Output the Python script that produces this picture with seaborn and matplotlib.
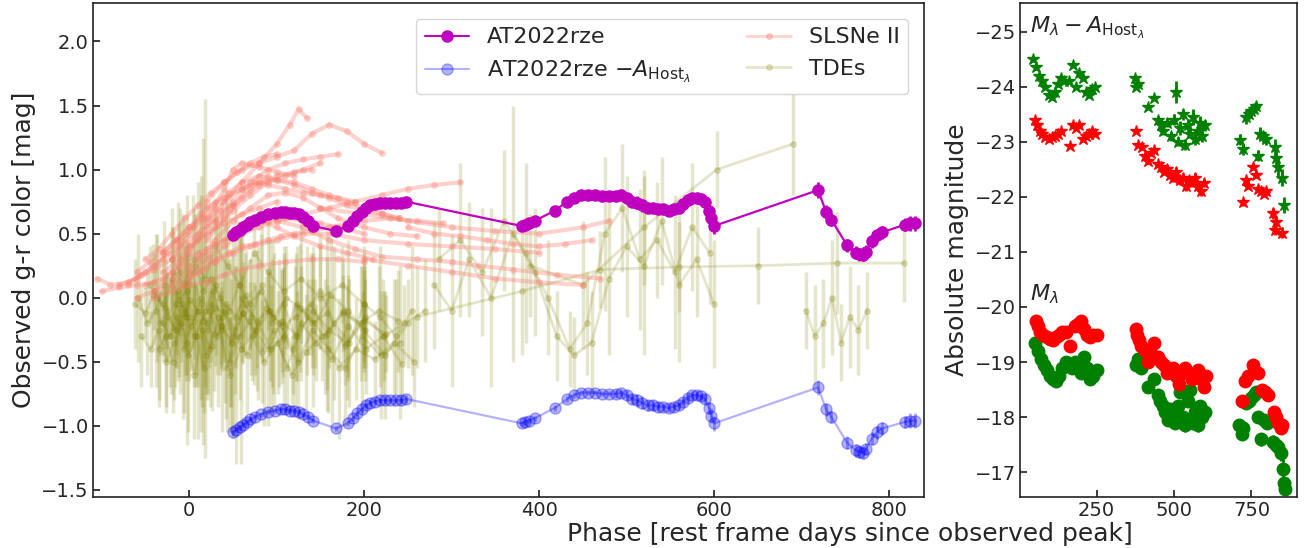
import numpy as np
import pandas as pd
import matplotlib
matplotlib.use("Agg")
import matplotlib.pyplot as plt
from matplotlib.lines import Line2D
import seaborn as sns

# ---------------- AT2022rze observed g-r colour ----------------
at_phase = [50, 54, 58, 62, 66, 70, 75, 82, 90, 98, 105, 110, 115, 120, 125, 130, 136, 142,
            168, 181, 187, 192, 197, 202, 207, 212, 218, 224, 230, 236, 242, 248,
            380, 384, 388, 395, 418, 432, 440, 448, 456, 464, 472, 480, 488, 494, 500, 506, 512, 518,
            524, 530, 536, 542, 548, 554, 560, 565, 570, 575, 580, 585, 590, 594, 597, 600,
            719, 728, 734, 752, 762, 766, 770, 774, 780, 786, 792, 818, 824, 830]
at_color = [0.49, 0.51, 0.53, 0.55, 0.57, 0.59, 0.61, 0.63, 0.65, 0.66, 0.67, 0.67, 0.66, 0.66, 0.65, 0.63, 0.60, 0.56,
            0.52, 0.56, 0.60, 0.64, 0.67, 0.70, 0.72, 0.73, 0.74, 0.74, 0.74, 0.74, 0.74, 0.75,
            0.56, 0.57, 0.58, 0.60, 0.68, 0.75, 0.78, 0.80, 0.80, 0.80, 0.79, 0.79, 0.79, 0.80, 0.78, 0.75, 0.74, 0.72,
            0.70, 0.70, 0.69, 0.69, 0.68, 0.69, 0.70, 0.73, 0.76, 0.78, 0.78, 0.77, 0.75, 0.68, 0.62, 0.56,
            0.84, 0.67, 0.61, 0.41, 0.35, 0.34, 0.335, 0.36, 0.44, 0.49, 0.51, 0.57, 0.58, 0.58]
at_err = [0.02, 0.02, 0.02, 0.02, 0.02, 0.02, 0.02, 0.02, 0.02, 0.02, 0.02, 0.02, 0.02, 0.02, 0.02, 0.02, 0.02, 0.02,
          0.02, 0.02, 0.02, 0.02, 0.02, 0.02, 0.02, 0.02, 0.02, 0.02, 0.02, 0.02, 0.02, 0.03,
          0.02, 0.02, 0.02, 0.02, 0.02, 0.02, 0.02, 0.02, 0.02, 0.02, 0.02, 0.02, 0.03, 0.03, 0.04, 0.04, 0.05, 0.05,
          0.04, 0.04, 0.04, 0.03, 0.03, 0.03, 0.03, 0.03, 0.03, 0.03, 0.03, 0.03, 0.04, 0.05, 0.06, 0.06,
          0.06, 0.05, 0.05, 0.05, 0.05, 0.05, 0.05, 0.05, 0.05, 0.05, 0.05, 0.05, 0.06, 0.06]

# colour corrected for host extinction
host_color = [-1.05, -1.03, -1.01, -0.99, -0.97, -0.95, -0.93, -0.91, -0.89, -0.88, -0.87, -0.87, -0.88, -0.88, -0.89, -0.91, -0.93, -0.96,
              -1.02, -0.98, -0.94, -0.90, -0.87, -0.84, -0.82, -0.81, -0.80, -0.80, -0.80, -0.80, -0.80, -0.79,
              -0.98, -0.97, -0.96, -0.94, -0.86, -0.79, -0.76, -0.74, -0.74, -0.74, -0.75, -0.75, -0.75, -0.74, -0.76, -0.79, -0.80, -0.82,
              -0.84, -0.84, -0.85, -0.85, -0.86, -0.85, -0.84, -0.81, -0.78, -0.76, -0.76, -0.77, -0.79, -0.86, -0.92, -0.98,
              -0.70, -0.87, -0.93, -1.13, -1.19, -1.20, -1.21, -1.18, -1.10, -1.05, -1.02, -0.97, -0.96, -0.96]

# ---------------- SLSNe II comparison colour curves ----------------
slsn1_phase = [-105, -90, -70, -50, -30, -10, 10, 30, 50, 70, 90]
slsn1_color = [0.15, 0.10, 0.12, 0.20, 0.30, 0.40, 0.50, 0.60, 0.72, 0.85, 0.95]
slsn2_phase = [-40, -20, 0, 20, 40, 60, 80, 100, 115, 125, 135]
slsn2_color = [0.05, 0.20, 0.35, 0.55, 0.75, 0.90, 1.05, 1.20, 1.35, 1.47, 1.40]
slsn3_phase = [-20, 0, 20, 40, 60, 80, 100, 120, 140, 160, 180, 200, 220]
slsn3_color = [0.30, 0.50, 0.75, 0.90, 1.00, 1.05, 1.10, 1.15, 1.28, 1.35, 1.30, 1.20, 1.13]
slsn4_phase = [-30, -10, 10, 30, 50, 70, 90, 110, 130, 150]
slsn4_color = [0.20, 0.30, 0.45, 0.55, 0.68, 0.80, 0.90, 0.95, 1.00, 1.05]
slsn5_phase = [0, 20, 40, 50, 60, 80, 100, 120]
slsn5_color = [0.40, 0.60, 0.85, 1.00, 1.05, 1.02, 0.98, 0.95]
slsn6_phase = [-50, -30, -10, 10, 30, 50, 70, 90, 110, 130, 150, 170, 200]
slsn6_color = [0.10, 0.15, 0.25, 0.35, 0.42, 0.48, 0.55, 0.60, 0.62, 0.60, 0.58, 0.55, 0.50]
slsn7_phase = [-60, -40, -20, 0, 20, 40, 60, 80, 100, 130, 160, 190, 220, 250, 280, 310]
slsn7_color = [0.00, 0.05, 0.10, 0.20, 0.30, 0.40, 0.50, 0.55, 0.60, 0.65, 0.70, 0.75, 0.80, 0.85, 0.88, 0.90]
slsn8_phase = [-20, 0, 20, 40, 60, 80, 100, 120, 150, 180, 210]
slsn8_color = [0.15, 0.25, 0.35, 0.45, 0.55, 0.60, 0.55, 0.48, 0.40, 0.35, 0.30]
slsn9_phase = [10, 30, 50, 70, 90, 110, 130, 150, 170, 200, 230, 260]
slsn9_color = [0.30, 0.45, 0.60, 0.70, 0.80, 0.82, 0.78, 0.70, 0.62, 0.55, 0.50, 0.48]
slsn10_phase = [-10, 10, 30, 50, 70, 100, 130, 160, 200, 250, 300, 350, 400]
slsn10_color = [0.10, 0.20, 0.28, 0.35, 0.40, 0.45, 0.50, 0.50, 0.45, 0.42, 0.40, 0.38, 0.35]
slsn11_phase = [20, 40, 60, 80, 100, 120, 140]
slsn11_color = [0.45, 0.62, 0.78, 0.88, 0.95, 0.98, 1.00]
slsn12_phase = [150, 200, 250, 300, 350, 400, 450, 480]
slsn12_color = [0.70, 0.65, 0.60, 0.55, 0.52, 0.50, 0.55, 0.60]
slsn13_phase = [-40, -20, 0, 20, 40, 60, 80, 110, 140, 170, 200]
slsn13_color = [0.00, 0.05, 0.10, 0.12, 0.18, 0.22, 0.25, 0.28, 0.30, 0.30, 0.28]
slsn14_phase = [100, 130, 160, 190, 220, 260, 300, 330, 370, 420, 470]
slsn14_color = [0.60, 0.55, 0.45, 0.38, 0.32, 0.30, 0.28, 0.25, 0.22, 0.18, 0.15]
slsn15_phase = [200, 250, 300, 350, 400, 450]
slsn15_color = [0.30, 0.25, 0.20, 0.15, 0.12, 0.10]
slsn16_phase = [-100, -80, -60, -40]
slsn16_color = [0.05, 0.08, 0.10, 0.12]
slsn17_phase = [30, 50, 70, 90, 110, 130, 150, 170]
slsn17_color = [0.60, 0.75, 0.90, 1.00, 1.05, 1.08, 1.10, 1.12]
slsn18_phase = [-80, -60, -40, -20, 0, 20, 40, 60, 80, 100]
slsn18_color = [0.10, 0.15, 0.22, 0.30, 0.40, 0.50, 0.58, 0.65, 0.70, 0.75]
slsn19_phase = [-60, -45, -30, -15, 0, 15, 30, 45, 60, 75, 90, 110, 130, 150, 170, 190]
slsn19_color = [0.20, 0.28, 0.36, 0.45, 0.55, 0.62, 0.70, 0.78, 0.85, 0.90, 0.88, 0.85, 0.82, 0.80, 0.78, 0.75]
slsn20_phase = [-30, -15, 0, 15, 30, 45, 60, 80, 100, 120, 140, 160, 180, 200, 220, 240]
slsn20_color = [0.35, 0.45, 0.55, 0.65, 0.75, 0.82, 0.90, 0.95, 0.92, 0.88, 0.82, 0.78, 0.72, 0.68, 0.65, 0.62]
slsn21_phase = [0, 15, 30, 45, 60, 75, 90, 105, 120, 140, 160, 180, 200, 230, 260, 290]
slsn21_color = [0.15, 0.22, 0.30, 0.35, 0.40, 0.42, 0.45, 0.48, 0.50, 0.52, 0.55, 0.58, 0.60, 0.62, 0.60, 0.58]
slsn22_phase = [-50, -35, -20, -5, 10, 25, 40, 55, 70, 85, 100]
slsn22_color = [0.30, 0.38, 0.50, 0.62, 0.72, 0.82, 0.90, 0.98, 1.05, 1.10, 1.12]
slsn23_phase = [20, 40, 60, 80, 100, 120, 140, 160, 180, 200, 220, 240]
slsn23_color = [0.70, 0.78, 0.85, 0.90, 0.92, 0.90, 0.85, 0.80, 0.75, 0.70, 0.66, 0.62]
slsn24_phase = [250, 280, 310, 340, 370, 400, 430, 460]
slsn24_color = [0.55, 0.50, 0.48, 0.45, 0.42, 0.40, 0.42, 0.45]
slsn25_phase = [-70, -55, -40, -25, -10, 5, 20, 35, 50]
slsn25_color = [0.10, 0.18, 0.25, 0.35, 0.45, 0.55, 0.62, 0.68, 0.72]

# ---------------- TDE comparison colour curves ----------------
tde1_phase = [-62, -50, -41, -33, -25, -16, -8, 0, 9, 18, 27, 38, 49, 61, 74, 88, 103, 119, 136, 155, 176, 199, 224, 250]
tde1_color = [-0.05, -0.12, 0.02, -0.2, -0.1, -0.25, -0.05, -0.15, -0.3, -0.1, 0.05, -0.22, -0.35, -0.12, -0.28, -0.08, -0.2, -0.4, -0.15, -0.3, -0.1, -0.25, -0.45, -0.2]
tde1_err = [0.35, 0.2, 0.4, 0.25, 0.3, 0.45, 0.2, 0.5, 0.3, 0.6, 0.25, 0.35, 0.7, 0.3, 0.4, 0.25, 0.5, 0.35, 0.3, 0.45, 0.4, 0.3, 0.5, 0.35]
tde2_phase = [-45, -37, -28, -20, -12, -3, 5, 14, 23, 32, 42, 53, 65, 78, 92, 107, 123, 140, 158, 178, 200, 225]
tde2_color = [0.1, 0.0, -0.08, 0.15, -0.02, 0.05, -0.18, 0.0, -0.1, -0.3, -0.05, -0.15, 0.02, -0.25, -0.1, -0.32, -0.05, -0.2, -0.12, -0.38, -0.18, -0.28]
tde2_err = [0.3, 0.5, 0.25, 0.4, 0.6, 0.35, 0.3, 0.8, 0.45, 0.3, 0.9, 0.4, 0.35, 0.3, 0.55, 0.3, 0.45, 0.35, 0.6, 0.3, 0.4, 0.3]
tde3_phase = [-30, -22, -14, -6, 2, 10, 19, 28, 37, 47, 58, 70, 83, 97, 112, 128, 145, 163, 182, 202, 222, 243]
tde3_color = [-0.2, -0.3, -0.15, -0.4, -0.22, -0.1, -0.45, -0.28, -0.15, -0.5, -0.3, -0.18, -0.42, -0.25, -0.55, -0.2, -0.35, -0.48, -0.22, -0.4, -0.3, -0.52]
tde3_err = [0.25, 0.4, 0.3, 0.5, 0.35, 0.6, 0.3, 0.45, 0.9, 0.35, 0.5, 0.3, 0.4, 0.6, 0.35, 0.45, 0.3, 0.5, 0.4, 0.35, 0.45, 0.3]
tde4_phase = [-20, -11, -2, 7, 16, 25, 35, 46, 57, 69, 82, 96, 111, 127, 144, 162, 181, 201]
tde4_color = [0.3, 0.2, 0.1, 0.25, 0.05, 0.15, 0.0, -0.1, 0.1, -0.05, 0.05, -0.15, 0.0, -0.08, -0.2, 0.02, -0.1, -0.25]
tde4_err = [0.4, 0.5, 0.7, 0.4, 1.2, 0.5, 0.6, 0.4, 0.5, 0.35, 0.45, 0.6, 0.4, 0.5, 0.35, 0.45, 0.55, 0.4]
tde5_phase = [-55, -44, -35, -26, -17, -9, -1, 8, 17, 26, 36, 47, 59, 72, 86, 101, 117, 134, 152, 171, 191, 212, 234, 257]
tde5_color = [-0.3, -0.4, -0.25, -0.5, -0.35, -0.2, -0.45, -0.3, -0.55, -0.38, -0.25, -0.6, -0.4, -0.3, -0.5, -0.35, -0.6, -0.42, -0.3, -0.55, -0.4, -0.48, -0.35, -0.5]
tde5_err = [0.4, 0.3, 0.55, 0.35, 0.45, 0.3, 0.6, 0.4, 0.35, 0.5, 0.3, 0.45, 0.9, 0.35, 0.5, 0.4, 0.3, 0.45, 0.35, 0.55, 0.4, 0.3, 0.5, 0.35]
tde6_phase = [-15, -7, 1, 10, 20, 30, 41, 52, 64, 77, 91, 106, 122, 139, 157, 176, 196, 217, 239]
tde6_color = [-0.05, -0.15, -0.02, -0.1, -0.2, -0.08, -0.12, -0.25, -0.05, -0.18, -0.1, -0.22, -0.15, -0.05, -0.28, -0.12, -0.2, -0.1, -0.18]
tde6_err = [0.5, 0.8, 0.4, 1.0, 0.6, 0.45, 0.7, 0.5, 0.4, 0.55, 0.35, 0.45, 0.5, 0.4, 0.6, 0.3, 0.45, 0.35, 0.4]
tde7_phase = [-40, -30, -18, -6, 6, 18, 30, 44, 58, 74, 90, 108, 128, 150, 175, 200]
tde7_color = [0.05, -0.05, 0.2, 0.1, 0.3, 0.15, 0.4, 0.25, 0.1, 0.35, 0.2, 0.05, 0.15, 0.0, 0.1, -0.05]
tde7_err = [0.3, 0.45, 0.35, 0.5, 0.4, 1.4, 0.35, 0.5, 0.4, 0.3, 0.45, 0.35, 0.5, 0.4, 0.3, 0.45]
tde8_phase = [-25, -15, -5, 5, 15, 25, 36, 48, 61, 75, 90, 106, 123, 141, 160, 180, 201, 223, 246, 270]
tde8_color = [-0.15, -0.25, -0.1, -0.3, -0.18, -0.05, -0.22, -0.35, -0.12, -0.25, -0.4, -0.18, -0.3, -0.1, -0.25, -0.35, -0.15, -0.3, -0.2, -0.1]
tde8_err = [0.35, 0.3, 0.5, 0.4, 0.35, 0.45, 0.3, 0.5, 0.4, 0.35, 0.6, 0.4, 0.35, 0.5, 0.3, 0.45, 0.4, 0.35, 0.3, 0.4]
tde9_phase = [390, 450, 520, 603, 690]
tde9_color = [0.25, 0.1, 0.55, 1.0, 1.2]
tde9_err = [0.4, 0.5, 0.45, 0.3, 0.4]
tde10_phase = [260, 380, 470, 560, 650, 740, 817]
tde10_color = [-0.15, 0.05, 0.22, 0.24, 0.25, 0.27, 0.27]
tde10_err = [0.4, 0.5, 0.3, 0.35, 0.3, 0.4, 0.3]
tde11_phase = [280, 300, 320, 345, 370, 395, 420, 440, 460, 480, 500, 520, 540, 560, 580, 600]
tde11_color = [0.1, -0.1, 0.3, 0.0, 0.5, 0.2, -0.3, -0.45, -0.35, 0.15, 0.4, 0.25, 0.6, 0.1, 0.3, -0.05]
tde11_err = [0.5, 0.6, 0.45, 0.7, 1.0, 0.5, 0.35, 0.3, 0.4, 0.6, 0.55, 0.7, 0.5, 0.6, 0.45, 0.5]
tde12_phase = [285, 310, 335, 360, 385, 410, 435, 455, 475, 495, 515, 535, 555, 575, 595]
tde12_color = [0.3, 0.45, 0.2, 0.6, 0.35, 0.0, -0.4, -0.2, 0.5, 0.7, 0.3, 0.45, 0.2, 0.55, 0.35]
tde12_err = [0.4, 0.6, 0.5, 0.55, 0.7, 0.45, 0.3, 0.4, 0.6, 0.5, 0.55, 0.45, 0.6, 0.5, 0.4]
tde13_phase = [705, 715, 725, 735, 745, 755, 765, 775]
tde13_color = [-0.1, -0.3, -0.2, 0.0, -0.35, -0.15, -0.25, -0.1]
tde13_err = [0.3, 0.4, 0.35, 0.45, 0.3, 0.4, 0.35, 0.3]
tde14_phase = [-58, -48, -38, -29, -21, -13, -4, 4, 13, 22, 31, 40, 50, 60, 71, 83, 95, 108, 121, 135, 150, 166, 183, 200, 218, 236, 255]
tde14_color = [0.0, -0.2, -0.1, 0.1, -0.3, 0.05, -0.15, 0.2, -0.05, -0.25, 0.1, -0.1, -0.3, 0.0, -0.15, 0.1, -0.2, -0.05, -0.3, -0.1, 0.05, -0.2, -0.35, -0.05, -0.15, -0.3, -0.1]
tde14_err = [0.5, 0.4, 0.6, 0.5, 0.45, 0.7, 0.5, 0.6, 1.0, 0.5, 0.55, 0.4, 0.8, 0.5, 0.45, 0.6, 0.5, 0.4, 0.55, 0.5, 0.45, 0.6, 0.5, 0.4, 0.55, 0.45, 0.5]
tde15_phase = [-35, -27, -19, -10, -2, 6, 15, 24, 33, 43, 54, 66, 79, 93, 108, 124, 141, 159, 178, 198, 219, 241]
tde15_color = [-0.4, -0.3, -0.5, -0.2, -0.35, -0.6, -0.25, -0.4, -0.15, -0.55, -0.3, -0.45, -0.2, -0.4, -0.3, -0.5, -0.25, -0.4, -0.55, -0.3, -0.45, -0.35]
tde15_err = [0.45, 0.6, 0.4, 0.55, 0.8, 0.5, 0.6, 0.45, 0.7, 0.5, 1.0, 0.45, 0.6, 0.5, 0.55, 0.45, 0.6, 0.5, 0.45, 0.55, 0.5, 0.6]

# ---------------- right panel: absolute magnitudes ----------------
g_abs_phase = [50, 60, 70, 80, 90, 100, 110, 120, 130, 140, 150, 160, 170, 180, 190, 200, 210, 220, 230, 240, 250,
               378, 385, 392, 415, 437, 447, 455, 463, 472, 480, 488, 496, 504, 512, 520, 528, 536, 544, 552, 560, 568, 576, 584, 592, 600,
               710, 718, 724, 734, 742, 750, 758, 766, 772, 780, 790, 800, 820, 828, 836, 845, 852, 855, 858]
g_abs_mag = [-19.35, -19.2, -19.05, -18.95, -18.85, -18.75, -18.7, -18.65, -18.75, -18.9, -19.0, -18.95, -18.9, -19.0, -18.95, -18.8, -19.1, -18.9, -18.7, -18.75, -18.85,
             -18.95, -19.05, -18.9, -18.55, -18.7, -18.4, -18.3, -18.2, -18.1, -17.95, -18.15, -18.05, -17.9, -18.2, -18.45, -18.0, -17.85, -18.3, -18.5, -17.9, -18.1, -17.85, -18.2, -18.0, -18.1,
             -17.85, -17.7, -17.8, -18.25, -18.3, -18.35, -18.4, -18.45, -18.0, -17.6, -17.95, -17.9, -17.55, -17.5, -17.45, -17.35, -17.05, -16.8, -16.7]
g_abs_err = [0.05, 0.05, 0.05, 0.05, 0.05, 0.05, 0.05, 0.05, 0.05, 0.05, 0.05, 0.08, 0.05, 0.05, 0.05, 0.05, 0.05, 0.05, 0.05, 0.05, 0.05,
             0.05, 0.05, 0.05, 0.05, 0.05, 0.06, 0.06, 0.06, 0.08, 0.08, 0.08, 0.1, 0.08, 0.12, 0.1, 0.1, 0.12, 0.08, 0.15, 0.1, 0.1, 0.12, 0.1, 0.1, 0.08,
             0.1, 0.1, 0.08, 0.08, 0.08, 0.08, 0.08, 0.08, 0.1, 0.12, 0.1, 0.1, 0.12, 0.12, 0.15, 0.15, 0.2, 0.12, 0.1]

r_abs_phase = [55, 60, 68, 78, 90, 100, 110, 120, 130, 140, 150, 165, 180, 190, 200, 210, 220, 230, 240, 250,
               378, 382, 388, 395, 405, 415, 425, 437, 447, 457, 467, 477, 487, 497, 507, 517, 527, 537, 547, 557, 567, 577, 587, 597, 603,
               720, 730, 738, 756, 770, 785, 795, 805, 822, 830, 836, 845, 850]
r_abs_mag = [-19.75, -19.65, -19.55, -19.5, -19.45, -19.42, -19.4, -19.45, -19.5, -19.55, -19.55, -19.3, -19.65, -19.7, -19.75, -19.6, -19.5, -19.45, -19.5, -19.5,
             -19.6, -19.5, -19.4, -19.3, -19.2, -19.0, -19.15, -19.35, -19.1, -19.0, -18.95, -18.8, -18.85, -18.9, -18.75, -18.6, -18.8, -18.9, -18.8, -18.7, -18.75, -18.85, -18.7, -18.55, -18.75,
             -18.3, -18.65, -18.75, -18.95, -18.8, -18.5, -18.45, -18.4, -18.1, -18.0, -17.9, -17.8, -17.85]
r_abs_err = [0.04, 0.04, 0.04, 0.04, 0.04, 0.04, 0.04, 0.04, 0.04, 0.04, 0.04, 0.06, 0.04, 0.04, 0.04, 0.04, 0.04, 0.04, 0.04, 0.04,
             0.04, 0.04, 0.04, 0.04, 0.04, 0.05, 0.05, 0.05, 0.06, 0.06, 0.06, 0.08, 0.08, 0.08, 0.1, 0.08, 0.08, 0.1, 0.08, 0.08, 0.08, 0.08, 0.08, 0.08, 0.08,
             0.06, 0.06, 0.06, 0.06, 0.06, 0.06, 0.06, 0.06, 0.1, 0.1, 0.08, 0.08, 0.08]

g_host_phase = [45, 55, 65, 75, 85, 95, 105, 115, 125, 135, 145, 160, 175, 185, 195, 205, 215, 225, 235, 245,
                374, 378, 385, 416, 437, 447, 457, 466, 476, 490, 500, 505, 512, 520, 528, 536, 544, 552, 560, 568, 576, 584, 592, 600,
                713, 724, 734, 742, 750, 758, 766, 772, 777, 787, 798, 825, 830, 836, 850, 855]
g_host_mag = [-24.5, -24.35, -24.2, -24.1, -24.0, -23.85, -23.82, -23.9, -24.05, -24.15, -24.1, -24.1, -24.4, -24.0, -24.25, -24.15, -23.9, -23.85, -23.95, -24.0,
              -24.15, -24.0, -24.05, -23.64, -23.8, -23.4, -23.3, -23.2, -23.35, -23.1, -23.4, -23.9, -23.0, -23.25, -23.5, -22.95, -23.3, -23.15, -23.45, -23.05, -23.2, -23.35, -23.1, -23.3,
              -23.04, -22.86, -23.45, -23.5, -23.55, -23.6, -23.65, -22.75, -23.15, -23.1, -23.05, -22.9, -22.7, -22.55, -22.35, -21.85]
g_host_err = [0.05, 0.05, 0.05, 0.05, 0.05, 0.05, 0.05, 0.05, 0.05, 0.05, 0.05, 0.05, 0.05, 0.05, 0.05, 0.05, 0.05, 0.05, 0.05, 0.05,
              0.05, 0.05, 0.05, 0.05, 0.05, 0.06, 0.06, 0.08, 0.08, 0.08, 0.1, 0.2, 0.08, 0.12, 0.1, 0.1, 0.12, 0.08, 0.15, 0.1, 0.1, 0.12, 0.1, 0.1,
              0.1, 0.1, 0.12, 0.08, 0.08, 0.08, 0.08, 0.1, 0.12, 0.1, 0.1, 0.15, 0.15, 0.2, 0.15, 0.15]

r_host_phase = [50, 58, 66, 75, 85, 95, 105, 115, 125, 135, 163, 175, 185, 195, 205, 215, 225, 235, 245,
                378, 385, 396, 405, 415, 425, 437, 448, 458, 468, 478, 488, 498, 508, 518, 528, 538, 548, 558, 568, 578, 587, 597,
                722, 734, 740, 755, 766, 771, 780, 790, 798, 820, 825, 830, 847]
r_host_mag = [-23.4, -23.3, -23.2, -23.15, -23.08, -23.05, -23.08, -23.1, -23.15, -23.2, -22.92, -23.3, -23.25, -23.3, -23.05, -23.1, -23.15, -23.2, -23.15,
              -23.2, -22.95, -22.9, -22.75, -22.65, -22.8, -22.85, -22.6, -22.55, -22.45, -22.5, -22.4, -22.35, -22.45, -22.3, -22.35, -22.2, -22.3, -22.25, -22.35, -22.2, -22.1, -22.25,
              -21.9, -22.3, -22.2, -22.55, -22.4, -22.15, -22.1, -22.05, -22.1, -21.7, -21.4, -21.55, -21.35]
r_host_err = [0.04, 0.04, 0.04, 0.04, 0.04, 0.04, 0.04, 0.04, 0.04, 0.04, 0.04, 0.04, 0.04, 0.04, 0.04, 0.04, 0.04, 0.04, 0.04,
              0.04, 0.04, 0.05, 0.05, 0.05, 0.05, 0.05, 0.06, 0.06, 0.06, 0.08, 0.08, 0.08, 0.1, 0.08, 0.08, 0.1, 0.08, 0.08, 0.08, 0.08, 0.08, 0.08,
              0.06, 0.06, 0.06, 0.06, 0.06, 0.06, 0.06, 0.06, 0.06, 0.1, 0.1, 0.1, 0.1]

# ---------------- plotting ----------------
sns.set_theme(style="ticks", color_codes=False,
              rc={"xtick.direction": "in", "ytick.direction": "in",
                  "axes.edgecolor": "#222222", "axes.linewidth": 1.2})
plt.rcParams["font.family"] = ["DejaVu Sans"]

MAGENTA = "#BF00BF"
BLUE = "#0000FF"
GREEN = "#008000"
RED = "#FF0000"
TDE_COLOR = "#808000"
SLSN_COLOR = "#FA8072"

fig = plt.figure(figsize=(13.04, 5.48), dpi=100)
W, H = 1304.0, 548.0
ax1 = fig.add_axes([93 / W, 1 - 497 / H, (924 - 93) / W, 494 / H])
ax2 = fig.add_axes([1020 / W, 1 - 497 / H, 277 / W, 494 / H])

tde_sets = [(tde1_phase, tde1_color, tde1_err), (tde2_phase, tde2_color, tde2_err),
            (tde3_phase, tde3_color, tde3_err), (tde4_phase, tde4_color, tde4_err),
            (tde5_phase, tde5_color, tde5_err), (tde6_phase, tde6_color, tde6_err),
            (tde7_phase, tde7_color, tde7_err), (tde8_phase, tde8_color, tde8_err),
            (tde9_phase, tde9_color, tde9_err), (tde10_phase, tde10_color, tde10_err),
            (tde11_phase, tde11_color, tde11_err), (tde12_phase, tde12_color, tde12_err),
            (tde13_phase, tde13_color, tde13_err), (tde14_phase, tde14_color, tde14_err),
            (tde15_phase, tde15_color, tde15_err)]
for p, c, e in tde_sets:
    ax1.errorbar(p, c, yerr=e, fmt="o-", color=TDE_COLOR, alpha=0.2, ms=4, lw=2,
                 elinewidth=2.5, capsize=0, zorder=1)

slsn_sets = [(slsn1_phase, slsn1_color), (slsn2_phase, slsn2_color), (slsn3_phase, slsn3_color),
             (slsn4_phase, slsn4_color), (slsn5_phase, slsn5_color), (slsn6_phase, slsn6_color),
             (slsn7_phase, slsn7_color), (slsn8_phase, slsn8_color), (slsn9_phase, slsn9_color),
             (slsn10_phase, slsn10_color), (slsn11_phase, slsn11_color), (slsn12_phase, slsn12_color),
             (slsn13_phase, slsn13_color), (slsn14_phase, slsn14_color), (slsn15_phase, slsn15_color),
             (slsn16_phase, slsn16_color), (slsn17_phase, slsn17_color), (slsn18_phase, slsn18_color),
             (slsn19_phase, slsn19_color), (slsn20_phase, slsn20_color), (slsn21_phase, slsn21_color),
             (slsn22_phase, slsn22_color), (slsn23_phase, slsn23_color), (slsn24_phase, slsn24_color),
             (slsn25_phase, slsn25_color)]
slsn_df = pd.concat([pd.DataFrame({"phase": p, "color": c, "obj": i})
                     for i, (p, c) in enumerate(slsn_sets)], ignore_index=True)
sns.lineplot(data=slsn_df, x="phase", y="color", units="obj", estimator=None, sort=False,
             color=SLSN_COLOR, alpha=0.35, lw=3, marker="o", markersize=5,
             markeredgewidth=0, legend=False, ax=ax1, zorder=2)

ax1.errorbar(at_phase, at_color, yerr=at_err, fmt="o-", color=MAGENTA, ms=8, lw=1.6,
             elinewidth=2, capsize=0, zorder=5)
ax1.errorbar(at_phase, host_color, yerr=at_err, fmt="o-", color=BLUE, alpha=0.3, ms=8, lw=1.6,
             elinewidth=2, capsize=0, zorder=4)

ax1.set_xlim(-110, 840)
ax1.set_ylim(-1.555, 2.3)
ax1.set_xticks([0, 200, 400, 600, 800])
ax1.set_yticks([-1.5, -1.0, -0.5, 0.0, 0.5, 1.0, 1.5, 2.0])
ax1.tick_params(labelsize=14, length=5, pad=3)
ax1.set_ylabel("Observed g-r color [mag]", fontsize=18)
ax1.set_xlabel("")

handles = [Line2D([], [], color=MAGENTA, marker="o", ms=8, lw=1.5),
           Line2D([], [], color=BLUE, alpha=0.3, marker="o", ms=8, lw=1.5),
           Line2D([], [], color=SLSN_COLOR, alpha=0.35, marker="o", ms=4, lw=2),
           Line2D([], [], color=TDE_COLOR, alpha=0.2, marker="o", ms=4, lw=2)]
labels = ["AT2022rze", r"AT2022rze $-A_{\mathrm{Host}_\lambda}$", "SLSNe II", "TDEs"]
ax1.legend(handles, labels, ncol=2, loc="upper right", fontsize=16,
           handlelength=2, columnspacing=2.5, borderaxespad=0.7)

# right panel
ax2.errorbar(g_abs_phase, g_abs_mag, yerr=g_abs_err, fmt="o", color=GREEN, ms=9, elinewidth=2, capsize=0)
ax2.errorbar(r_abs_phase, r_abs_mag, yerr=r_abs_err, fmt="o", color=RED, ms=9, elinewidth=2, capsize=0)
ax2.errorbar(g_host_phase, g_host_mag, yerr=g_host_err, fmt="*", color=GREEN, ms=9, elinewidth=2, capsize=0)
ax2.errorbar(r_host_phase, r_host_mag, yerr=r_host_err, fmt="*", color=RED, ms=9, elinewidth=2, capsize=0)
ax2.set_xlim(3, 897)
ax2.set_ylim(-16.55, -25.52)
ax2.set_xticks([250, 500, 750])
ax2.set_yticks([-25, -24, -23, -22, -21, -20, -19, -18, -17])
ax2.tick_params(labelsize=14, length=5, pad=3)
ax2.set_ylabel("Absolute magnitude", fontsize=18)
ax2.text(0.035, 0.975, r"$M_\lambda - A_{\mathrm{Host}_\lambda}$", transform=ax2.transAxes,
         fontsize=16, va="top", ha="left")
ax2.text(0.035, 0.435, r"$M_\lambda$", transform=ax2.transAxes,
         fontsize=16, va="top", ha="left")

fig.text(850 / W, 1 - 534 / H, "Phase [rest frame days since observed peak]",
         fontsize=18, ha="center", va="center")

fig.savefig("out.png", dpi=100)
